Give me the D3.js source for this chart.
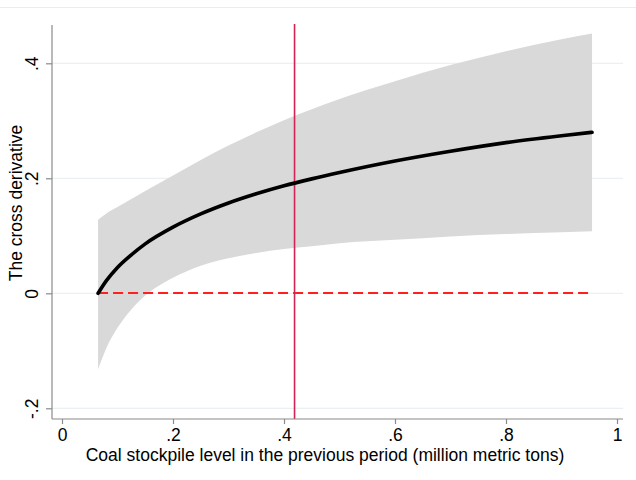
<!DOCTYPE html>
<html>
<head>
<meta charset="utf-8">
<script src="https://cdn.jsdelivr.net/npm/d3@7"></script>
<style>
  html, body { margin: 0; padding: 0; background: #fff; }
  svg { display: block; font-family: "Liberation Sans", Arial, sans-serif; }
</style>
</head>
<body>
<svg id="chart" width="636" height="480"></svg>
<script>
// Stockpile level (million metric tons) at which the marginal effect is evaluated
const stockpile = [0.065, 0.08, 0.1, 0.125, 0.15, 0.2, 0.25, 0.3, 0.35, 0.4, 0.45, 0.5, 0.6, 0.7, 0.8, 0.9, 0.955];
// Point estimate of the cross derivative
const estimate  = [0.000, 0.022, 0.045, 0.067, 0.086, 0.115, 0.138, 0.157, 0.173, 0.187, 0.199, 0.210, 0.230, 0.247, 0.262, 0.274, 0.280];
// 95% confidence bounds
const lowerCI   = [-0.132, -0.095, -0.060, -0.028, -0.004, 0.027, 0.048, 0.061, 0.070, 0.077, 0.082, 0.087, 0.093, 0.099, 0.103, 0.106, 0.108];
const upperCI   = [0.128, 0.139, 0.150, 0.164, 0.178, 0.205, 0.232, 0.257, 0.280, 0.301, 0.320, 0.338, 0.369, 0.397, 0.421, 0.442, 0.452];
// Sample mean of the stockpile level (vertical reference line)
const meanStockpile = 0.419;
const xTicks = [0, 0.2, 0.4, 0.6, 0.8, 1];
const xTickLabels = ["0", ".2", ".4", ".6", ".8", "1"];
const yTicks = [-0.2, 0, 0.2, 0.4];
const yTickLabels = ["-.2", "0", ".2", ".4"];
const xTitle = "Coal stockpile level in the previous period (million metric tons)";
const yTitle = "The cross derivative";

const rows = stockpile.map((s, i) => ({ s, est: estimate[i], lo: lowerCI[i], hi: upperCI[i] }));

const svg = d3.select("#chart");
const x = d3.scaleLinear().domain([0, 1]).range([62, 617]);
const y = d3.scaleLinear().domain([-0.2, 0.4]).range([408.3, 63.3]);
const axisX = 52, axisY = 419, plotTop = 25, plotRight = 623;
const fontStack = "'Liberation Sans', Arial, sans-serif";

// outer frame line of the graph region
svg.append("line").attr("x1", 0).attr("x2", 636).attr("y1", 7.5).attr("y2", 7.5)
  .attr("stroke", "#ececec").attr("stroke-width", 1);

// horizontal gridlines
svg.append("g").selectAll("line").data(yTicks).join("line")
  .attr("x1", axisX).attr("x2", plotRight)
  .attr("y1", d => y(d)).attr("y2", d => y(d))
  .attr("stroke", "#e6eef0").attr("stroke-width", 1);

// confidence band
svg.append("path").datum(rows)
  .attr("fill", "#d9d9d9")
  .attr("d", d3.area().x(d => x(d.s)).y0(d => y(d.lo)).y1(d => y(d.hi)).curve(d3.curveMonotoneX));

// zero reference (dashed)
svg.append("line")
  .attr("x1", x(stockpile[0])).attr("x2", x(stockpile[stockpile.length - 1]))
  .attr("y1", Math.round(y(0))).attr("y2", Math.round(y(0)))
  .attr("stroke", "#ff1f1f").attr("stroke-width", 2)
  .attr("stroke-dasharray", "10,5");

// mean stockpile line
svg.append("line")
  .attr("x1", x(meanStockpile)).attr("x2", x(meanStockpile))
  .attr("y1", 24).attr("y2", axisY)
  .attr("stroke", "#d42455").attr("stroke-width", 1.6);

// point estimate
svg.append("path").datum(rows)
  .attr("fill", "none").attr("stroke", "#000").attr("stroke-width", 3.6)
  .attr("stroke-linecap", "round")
  .attr("d", d3.line().x(d => x(d.s)).y(d => y(d.est)).curve(d3.curveMonotoneX));

// axes
const gx = svg.append("g").attr("transform", `translate(0,${axisY})`)
  .call(d3.axisBottom(x).tickValues(xTicks).tickFormat((d, i) => xTickLabels[i]).tickSize(5).tickPadding(5));
gx.select(".domain").attr("d", `M${axisX},0H${plotRight}`);
const gy = svg.append("g").attr("transform", `translate(${axisX},0)`)
  .call(d3.axisLeft(y).tickValues(yTicks).tickFormat((d, i) => yTickLabels[i]).tickSize(6).tickPadding(6));
gy.select(".domain").attr("d", `M0,${plotTop}V${axisY}`);

[gx, gy].forEach(g => {
  g.select(".domain").attr("stroke", "#8a8a8a").attr("stroke-width", 1.2);
  g.selectAll(".tick line").attr("stroke", "#8a8a8a").attr("stroke-width", 1.2);
  g.selectAll(".tick text").attr("fill", "#000").style("font-size", "17.5px")
    .style("font-family", fontStack);
});
// rotated y tick labels
gy.selectAll(".tick text")
  .attr("x", null).attr("dy", null)
  .attr("text-anchor", "middle")
  .attr("transform", "translate(-14,0) rotate(-90)");

// axis titles
svg.append("text").attr("x", 325).attr("y", 461).attr("text-anchor", "middle")
  .style("font-size", "17.5px").style("font-family", fontStack).attr("fill", "#000").text(xTitle);
svg.append("text").attr("transform", "translate(22,203) rotate(-90)").attr("text-anchor", "middle")
  .style("font-size", "17.5px").style("font-family", fontStack).attr("fill", "#000").text(yTitle);
</script>
</body>
</html>
